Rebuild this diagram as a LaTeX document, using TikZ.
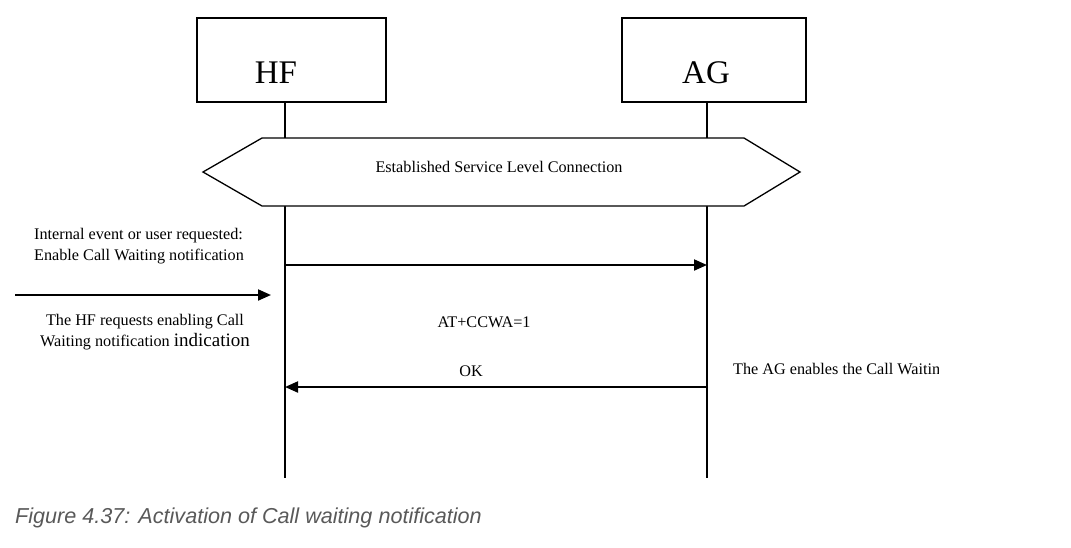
\documentclass[tikz,border=0pt]{standalone}
\usepackage{fontspec}
\setmainfont{Liberation Serif}
\newfontfamily\capfont{Liberation Sans}
\usetikzlibrary{arrows.meta}
\tikzset{
  entity/.style={draw, line width=1.3pt, minimum height=84pt, inner sep=0pt},
  etext/.style={font=\fontsize{33}{36}\selectfont, inner sep=0pt},
  life/.style={line width=2pt},
  msg/.style={line width=2pt, -{Triangle[length=13pt,width=11pt]}},
  lbl/.style={font=\fontsize{16.2}{20.5}\selectfont, inner sep=0pt},
}
\begin{document}
\begin{tikzpicture}[x=1pt,y=-1pt]
\useasboundingbox (0,0) rectangle (1071,547);
% entities
\node[entity, minimum width=189pt] (hf) at (291.5,60) {};
\node[entity, minimum width=184pt] (ag) at (714,60) {};
\node[etext] (hft) at (276,73) {HF};
\node[etext] (agt) at (706,73) {AG};
% lifeline coordinates
\coordinate (hfend) at (285,478);
\coordinate (agend) at (707,478);
\draw[life] (hf.south -| hfend) -- (hfend);
\draw[life] (ag.south -| agend) -- (agend);
% hexagon
\draw[fill=white, line width=1.3pt] (203,172) -- (262,138) -- (744,138) -- (800,172) -- (744,206) -- (262,206) -- cycle;
\node[lbl] (slc) at (499,167) {Established Service Level Connection};
% messages
\coordinate (hf1) at (285,265);
\coordinate (ag1) at (707,265);
\draw[msg] (hf1) -- (ag1);
\coordinate (ext) at (15,295);
\coordinate (exte) at (271,295);
\draw[msg] (ext) -- (exte);
\coordinate (hf2) at (285,387);
\coordinate (ag2) at (708,387);
\draw[msg] (ag2) -- (hf2);
% labels
\node[lbl, anchor=west, align=left] (int) at (34,246) {Internal event or user requested:\\Enable Call Waiting notification};
\node[lbl, align=center] (req) at (145,332) {The HF requests enabling Call\\Waiting notification {\fontsize{19}{20}\selectfont indication}};
\node[lbl] (at) at (484,322) {AT+CCWA=1};
\node[lbl] (ok) at (471,371) {OK};
\begin{scope}
\clip (720,350) rectangle (938,392);
\node[lbl, anchor=west] (agen) at (733,371) {The AG enables the Call Waiting notification};
\end{scope}
% caption
\node[anchor=west, inner sep=0pt, text=black!65, font=\capfont\itshape\fontsize{21.6}{24}\selectfont] (cap) at (15,518) {Figure 4.37: Activation of Call waiting notification};
\end{tikzpicture}
\end{document}
